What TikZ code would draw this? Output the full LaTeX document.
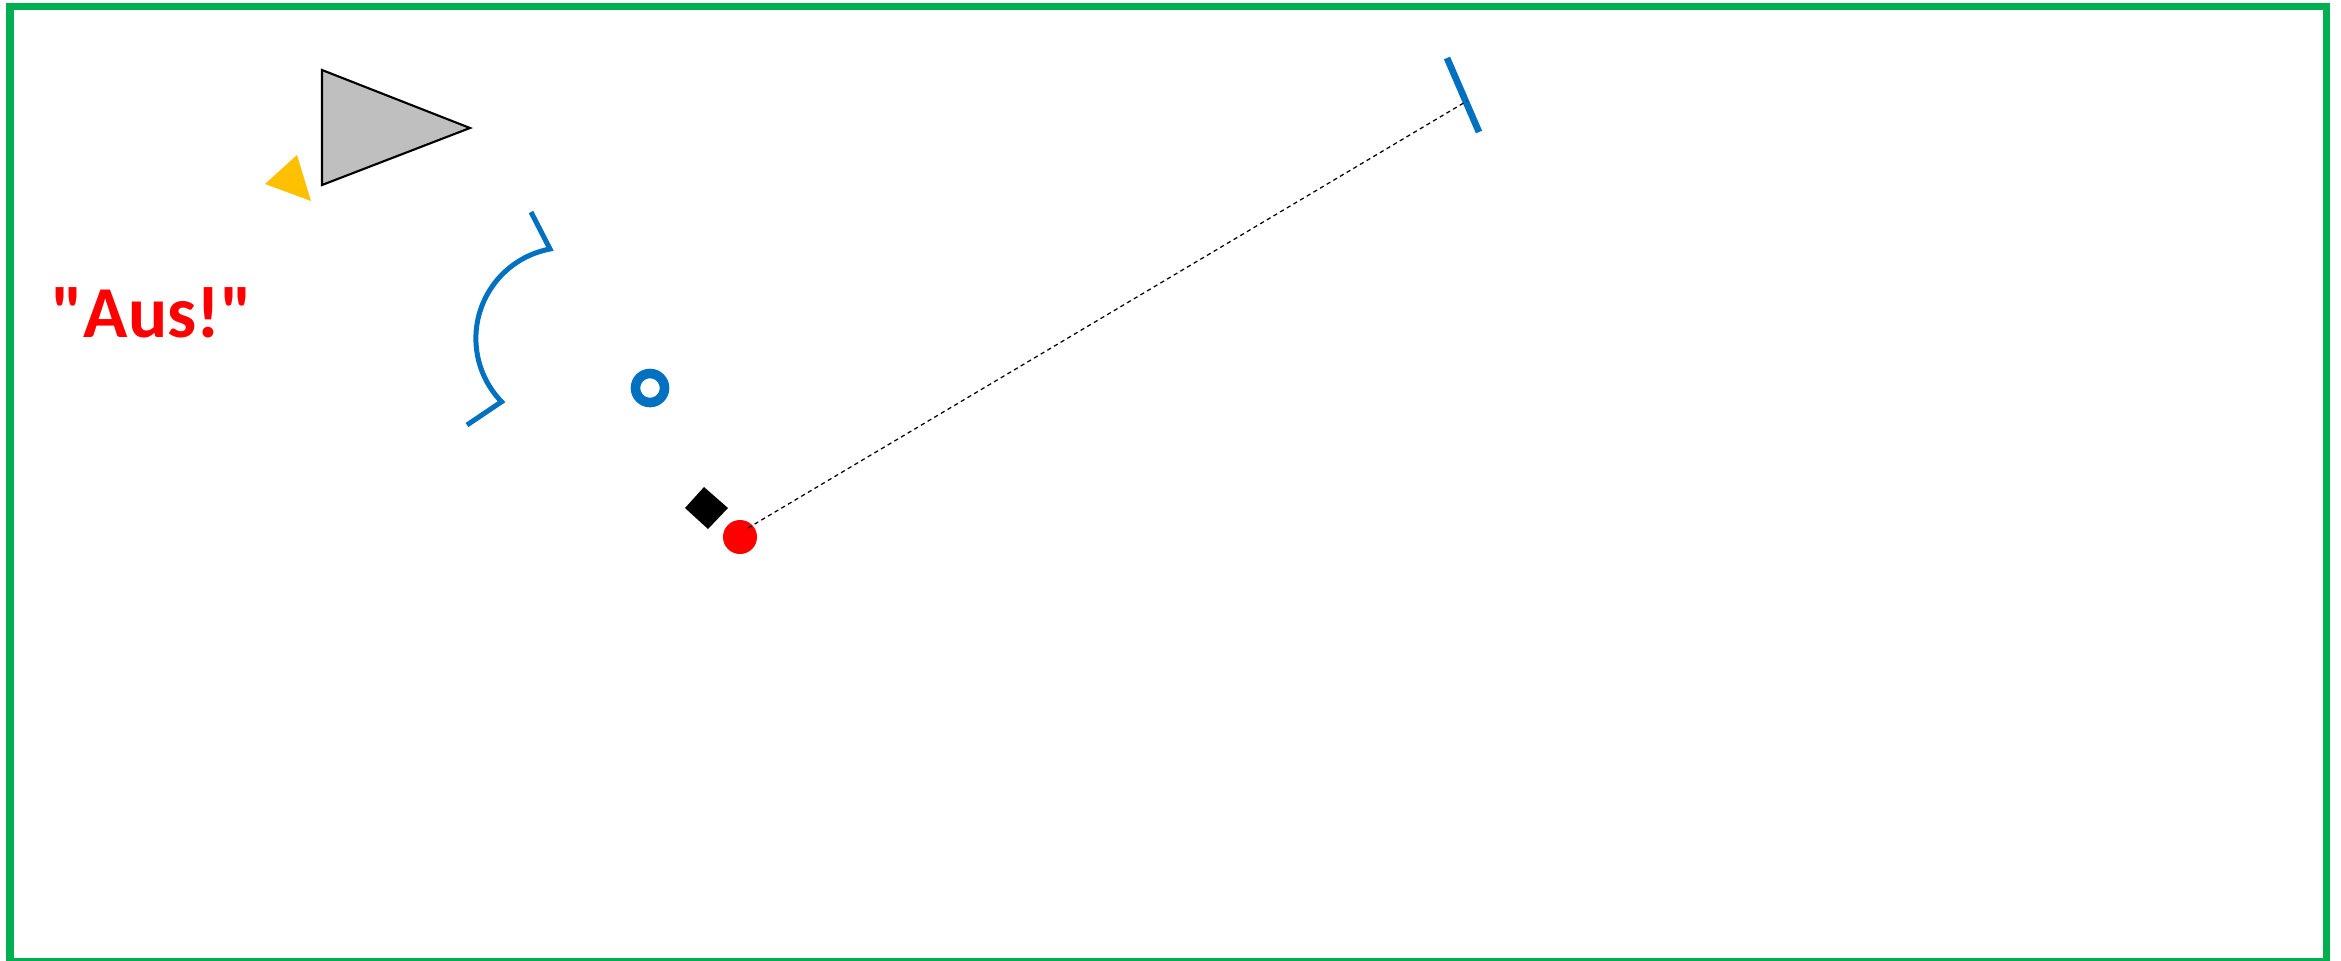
\documentclass[tikz,border=0pt]{standalone}
\usepackage{fontspec}
\setmainfont{Carlito}
\usepackage{tikz}
\usetikzlibrary{positioning, calc}

\definecolor{framegreen}{HTML}{00B050}
\definecolor{markblue}{HTML}{0070C0}
\definecolor{markyellow}{HTML}{FFC000}
\definecolor{markgray}{HTML}{BFBFBF}
\newcommand{\straightquote}{\XeTeXglyph\XeTeXcharglyph"22\relax}

\begin{document}
\begin{tikzpicture}[
		x=0.01cm, y=-0.01cm,
		frame/.style={draw=framegreen, line width=0.07cm},
		bluestroke/.style={draw=markblue, line width=0.05cm, line join=miter},
		reddot/.style={circle, fill=red, inner sep=0pt, minimum size=0.34cm},
		ring/.style={draw=markblue, line width=0.096cm},
		sightline/.style={draw=black, line width=0.35pt, dash pattern=on 1.2pt off 1pt},
		callout/.style={text=red, font=\fontsize{20.8}{25}\selectfont\bfseries, inner sep=0pt, anchor=base west}
	]
		\useasboundingbox (0,0) rectangle (2341,960);
		\draw[frame] (10,6.5) rectangle (2326,961.5);
		
		\draw[black, line width=0.6pt, fill=markgray] (322,70) -- (322,185) -- (470,128) -- cycle;
		\fill[markyellow] (265,184) -- (297,155) -- (311,201) -- cycle;
		
		\node[callout] (aus) at (51,337) {\straightquote Aus!\straightquote};
		
		\draw[bluestroke] (531,212) -- (550,249) arc[start angle=259.3, end angle=135.9, radius=91] -- (467,425);
		\draw[ring] (650,388) circle[radius=14.5];
		
		\fill[black] (704,487) -- (728,508) -- (708,529) -- (685,508) -- cycle;
		\node[reddot] (ball) at (740,537) {};
		
		\draw[markblue, line width=0.067cm] (1447,58) -- (1479,132);
		\coordinate (sightA) at (748,528);
		\coordinate (sightB) at (1467,101);
		\draw[sightline] (sightA) -- (sightB);
	\end{tikzpicture}
\end{document}
